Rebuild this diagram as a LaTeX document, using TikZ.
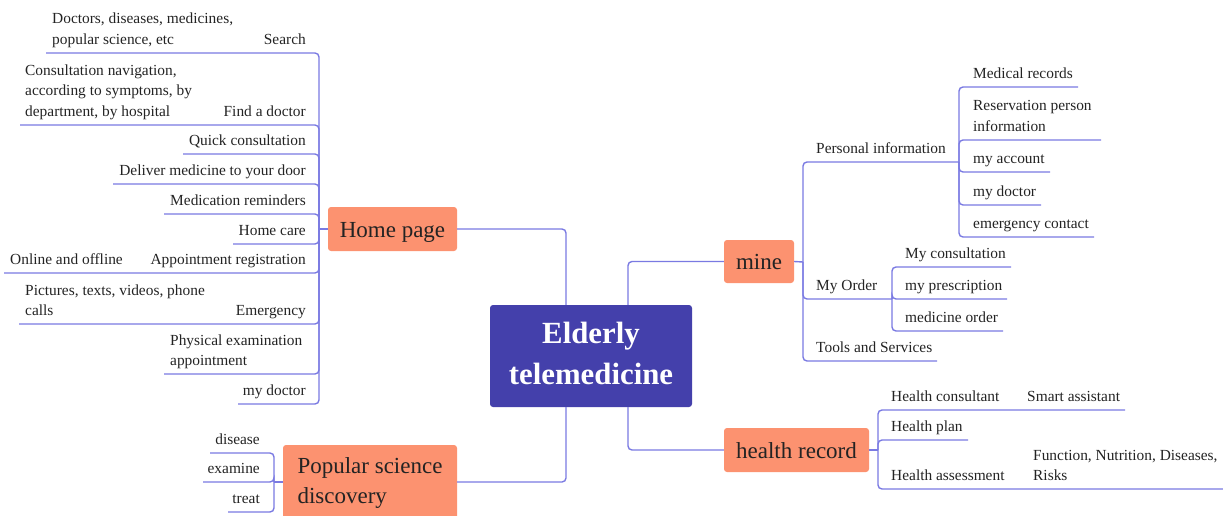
\documentclass[tikz,border=0pt]{standalone}
\usepackage{fontspec}
\setmainfont{Liberation Serif}
\definecolor{linec}{RGB}{122,122,226}
\definecolor{cfill}{RGB}{68,64,171}
\definecolor{ofill}{RGB}{252,146,112}
\definecolor{txt}{RGB}{35,35,35}
\newcommand{\mlL}[1]{\begin{tabular}[b]{@{}l@{}}#1\end{tabular}}
\newcommand{\mlC}[1]{\begin{tabular}{@{}c@{}}#1\end{tabular}}
\tikzset{
  conn/.style={draw=linec, line width=1.4pt, rounded corners=4pt},
  lbl/.style={font=\fontsize{15.4}{20.5}\selectfont, text=txt, inner sep=0pt},
  obase/.style={fill=ofill, rounded corners=3pt, font=\fontsize{23}{30}\selectfont, text=txt, inner sep=0pt},
  obox/.style={obase, text height=20pt, text depth=4pt},
  cbox/.style={fill=cfill, rounded corners=3pt, font=\fontsize{30.8}{41}\selectfont\bfseries, text=white, inner sep=0pt},
}
\begin{document}
\begin{tikzpicture}[x=1pt,y=-1pt]
\useasboundingbox (0,0) rectangle (1223,516);
\clip (0,0) rectangle (1223,516);

% main boxes
\node[cbox, minimum width=202pt, minimum height=102pt] (center) at (591,356) {\mlC{Elderly\\telemedicine}};
\node[obox, minimum width=129pt, minimum height=44pt] (home) at (392.5,229) {Home page};
\node[obase, minimum width=174pt, minimum height=74pt] (pop) at (370,482) {\mlC{\begin{tabular}{@{}l@{}}Popular science\\discovery\end{tabular}}};
\node[obox, minimum width=70pt, minimum height=43pt] (mine) at (759,261.5) {mine};
\node[obox, minimum width=145pt, minimum height=44pt] (hrec) at (796.5,450) {health record};

% left texts
\node[lbl, anchor=base east] (search) at (306,44.5) {Search};
\node[lbl, anchor=base west] (searchd) at (52,44.5) {\mlL{Doctors, diseases, medicines,\\popular science, etc}};
\node[lbl, anchor=base east] (finddoc) at (306,116.5) {Find a doctor};
\node[lbl, anchor=base west] (finddocd) at (25,116.5) {\mlL{Consultation navigation,\\according to symptoms, by\\department, by hospital}};
\node[lbl, anchor=base east] (quick) at (306,145.5) {Quick consultation};
\node[lbl, anchor=base east] (deliver) at (306,175.5) {Deliver medicine to your door};
\node[lbl, anchor=base east] (medrem) at (306,205.5) {Medication reminders};
\node[lbl, anchor=base east] (homecare) at (306,235.5) {Home care};
\node[lbl, anchor=base east] (appt) at (306,264.5) {Appointment registration};
\node[lbl, anchor=base west] (apptd) at (10,264.5) {Online and offline};
\node[lbl, anchor=base east] (emerg) at (306,315.5) {Emergency};
\node[lbl, anchor=base west] (emergd) at (25,315.5) {\mlL{Pictures, texts, videos, phone\\calls}};
\node[lbl, anchor=base west] (phys) at (170,365.5) {\mlL{Physical examination\\appointment}};
\node[lbl, anchor=base east] (mydocL) at (306,395.5) {my doctor};
\node[lbl, anchor=base east] (disease) at (260,444.5) {disease};
\node[lbl, anchor=base east] (examine) at (260,473.5) {examine};
\node[lbl, anchor=base east] (treat) at (260,503.5) {treat};

% right texts
\node[lbl, anchor=base west] (pinfo) at (816,153.5) {Personal information};
\node[lbl, anchor=base west] (medrec) at (973,78.5) {Medical records};
\node[lbl, anchor=base west] (reserv) at (973,131.5) {\mlL{Reservation person\\information}};
\node[lbl, anchor=base west] (myacc) at (973,163.5) {my account};
\node[lbl, anchor=base west] (mydocR) at (973,196.5) {my doctor};
\node[lbl, anchor=base west] (emcont) at (973,228.5) {emergency contact};
\node[lbl, anchor=base west] (myorder) at (816,290.5) {My Order};
\node[lbl, anchor=base west] (mycons) at (905,258.5) {My consultation};
\node[lbl, anchor=base west] (mypres) at (905,290.5) {my prescription};
\node[lbl, anchor=base west] (medord) at (905,322.5) {medicine order};
\node[lbl, anchor=base west] (tools) at (816,352.5) {Tools and Services};
\node[lbl, anchor=base west] (hcons) at (891,401.5) {Health consultant};
\node[lbl, anchor=base west] (smart) at (1027,401.5) {Smart assistant};
\node[lbl, anchor=base west] (hplan) at (891,431.5) {Health plan};
\node[lbl, anchor=base west] (hassess) at (891,480.5) {Health assessment};
\node[lbl, anchor=base west] (func) at (1033,480.5) {\mlL{Function, Nutrition, Diseases,\\Risks}};

% center connectors
\draw[conn] ([xshift=-25pt]center.north) |- (home.east);
\draw[conn] ([xshift=-25pt]center.south) |- (pop.east);
\draw[conn] ([xshift=37pt]center.north) |- (mine.west);
\draw[conn] ([xshift=37pt]center.south) |- (hrec.west);

% home page branch
\coordinate (hphub) at (319,229);
\draw[conn] (home.west) -- (hphub);
\coordinate (u-search) at (46,53);
\coordinate (u-finddoc) at (20,125);
\coordinate (u-quick) at (183,154);
\coordinate (u-deliver) at (113,184);
\coordinate (u-medrem) at (164,214);
\coordinate (u-homecare) at (233,244);
\coordinate (u-appt) at (4,273);
\coordinate (u-emerg) at (19,324);
\coordinate (u-phys) at (164,374);
\coordinate (u-mydocL) at (238,404);
\foreach \u in {search,finddoc,quick,deliver,medrem,homecare,appt,emerg,phys,mydocL}
  \draw[conn] (u-\u) -| (hphub);

% popular science branch
\coordinate (pshub) at (274,482);
\draw[conn] (pop.west) -- (pshub);
\coordinate (u-disease) at (210,453);
\coordinate (u-examine) at (203,482);
\coordinate (u-treat) at (228,512);
\foreach \u in {disease,examine,treat}
  \draw[conn] (u-\u) -| (pshub);

% mine branch
\coordinate (mhub) at (803,262);
\draw[conn] (mine.east) -- (mhub);
\coordinate (pihub) at (959,162);
\coordinate (mohub) at (892,299);
\coordinate (u-tools) at (937,361);
\draw[conn] (pihub) -| (mhub);
\draw[conn] (mohub) -| (mhub);
\draw[conn] (u-tools) -| (mhub);
\coordinate (u-medrec) at (1078,87);
\coordinate (u-reserv) at (1101,140);
\coordinate (u-myacc) at (1050,172);
\coordinate (u-mydocR) at (1041,205);
\coordinate (u-emcont) at (1094,237);
\foreach \u in {medrec,reserv,myacc,mydocR,emcont}
  \draw[conn] (pihub) |- (u-\u);
\coordinate (u-mycons) at (1011,267);
\coordinate (u-mypres) at (1007,299);
\coordinate (u-medord) at (1003,331);
\foreach \u in {mycons,mypres,medord}
  \draw[conn] (mohub) |- (u-\u);

% health record branch
\coordinate (hrhub) at (878,450);
\draw[conn] (hrec.east) -- (hrhub);
\coordinate (u-smart) at (1125,410);
\coordinate (u-hplan) at (968,440);
\coordinate (u-func) at (1226,489);
\foreach \u in {smart,hplan,func}
  \draw[conn] (hrhub) |- (u-\u);
\end{tikzpicture}
\end{document}
